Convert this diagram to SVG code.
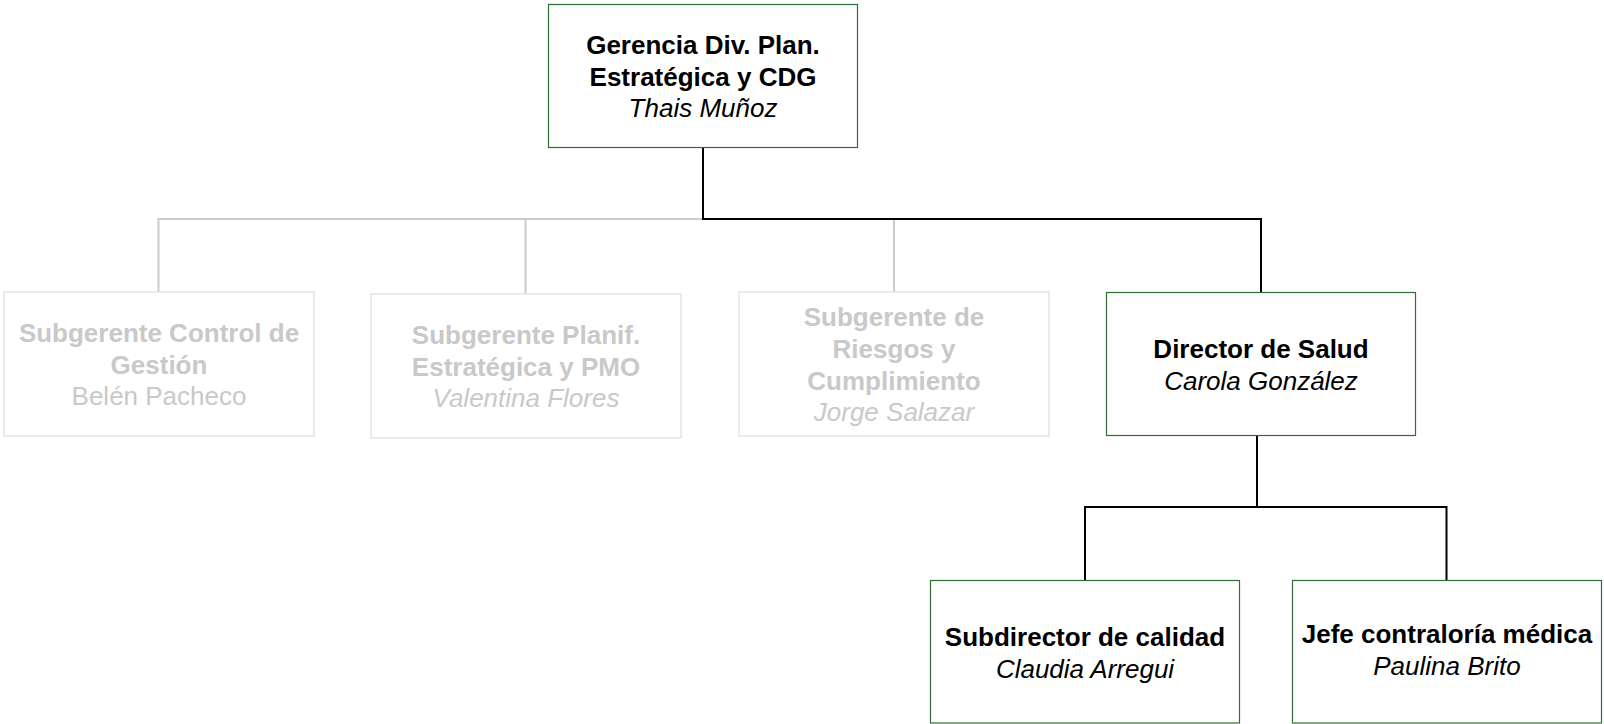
<svg xmlns="http://www.w3.org/2000/svg" width="1604" height="724" viewBox="0 0 1604 724">
<style>
.box{fill:#ffffff;stroke:#2f6e36;stroke-width:1.2}
.gbox{fill:#ffffff;stroke:#dfe7df;stroke-width:1.5}
.t{font-family:"Liberation Sans",Arial,sans-serif;font-size:26px;text-anchor:middle;fill:#000}
.g{fill:#c9c9c9}
.b{font-weight:bold}
.i{font-style:italic}
.ck{fill:none;stroke:#000;stroke-width:2}
.cg{fill:none;stroke:#cccccc;stroke-width:2}
</style>
<rect width="1604" height="724" fill="#ffffff"/>
<g id="connectors">
<path class="cg" d="M703 219H158.5V292M525.5 219V294M894 219V292"/>
<path class="ck" d="M703 147V219H1261V292"/>
<path class="ck" d="M1257 436V507H1085V580M1257 507H1446.5V580"/>
</g>
<g id="n-gerencia">
<rect class="box" x="548.5" y="4.5" width="309" height="143"/>
<text class="t b" x="703" y="54">Gerencia Div. Plan.</text>
<text class="t b" x="703" y="86">Estratégica y CDG</text>
<text class="t i" x="703" y="117">Thais Muñoz</text>
</g>
<g id="n-control">
<rect class="gbox" x="4" y="292" width="310" height="144"/>
<text class="t b g" x="159" y="342">Subgerente Control de</text>
<text class="t b g" x="159" y="374">Gestión</text>
<text class="t g" x="159" y="405">Belén Pacheco</text>
</g>
<g id="n-planif">
<rect class="gbox" x="371" y="294" width="310" height="144"/>
<text class="t b g" x="526" y="344">Subgerente Planif.</text>
<text class="t b g" x="526" y="376">Estratégica y PMO</text>
<text class="t i g" x="526" y="407">Valentina Flores</text>
</g>
<g id="n-riesgos">
<rect class="gbox" x="739" y="292" width="310" height="144"/>
<text class="t b g" x="894" y="326">Subgerente de</text>
<text class="t b g" x="894" y="358">Riesgos y</text>
<text class="t b g" x="894" y="390">Cumplimiento</text>
<text class="t i g" x="894" y="421">Jorge Salazar</text>
</g>
<g id="n-director">
<rect class="box" x="1106.5" y="292.5" width="309" height="143"/>
<text class="t b" x="1261" y="358">Director de Salud</text>
<text class="t i" x="1261" y="390">Carola González</text>
</g>
<g id="n-calidad">
<rect class="box" x="930.5" y="580.5" width="309" height="142.5"/>
<text class="t b" x="1085" y="646">Subdirector de calidad</text>
<text class="t i" x="1085" y="678">Claudia Arregui</text>
</g>
<g id="n-contraloria">
<rect class="box" x="1292.5" y="580.5" width="309" height="142.5"/>
<text class="t b" x="1447" y="643">Jefe contraloría médica</text>
<text class="t i" x="1447" y="675">Paulina Brito</text>
</g>
</svg>
